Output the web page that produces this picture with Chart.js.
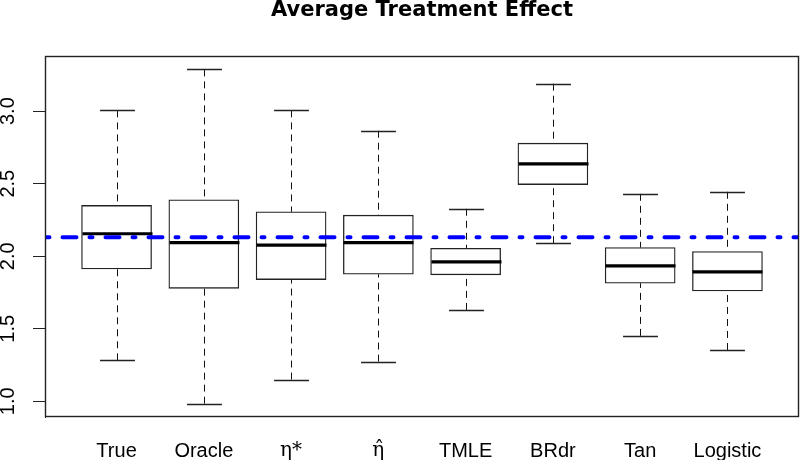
<!DOCTYPE html>
<html>
<head>
<meta charset="utf-8">
<script src="https://cdn.jsdelivr.net/npm/chart.js@4"></script>
<style>
  html, body { margin: 0; padding: 0; background: #fff; }
  canvas { display: block; }
</style>
</head>
<body>
<canvas id="c" width="800" height="460"></canvas>
<script>
// ---- data ----
const categories  = ['True', 'Oracle', 'η*', 'η\u0302', 'TMLE', 'BRdr', 'Tan', 'Logistic'];
const whiskerLow  = [1.283, 0.984, 1.150, 1.274, 1.630, 2.090, 1.451, 1.354];
const q1          = [1.913, 1.779, 1.839, 1.876, 1.872, 2.494, 1.814, 1.761];
const medians     = [2.155, 2.094, 2.076, 2.094, 1.961, 2.637, 1.934, 1.892];
const q3          = [2.350, 2.389, 2.306, 2.283, 2.055, 2.779, 2.060, 2.032];
const whiskerHigh = [3.005, 3.288, 3.005, 2.865, 2.327, 3.189, 2.430, 2.444];
const referenceValue = 2.131;
const yTickValues = [1.0, 1.5, 2.0, 2.5, 3.0];
const xPositions  = categories.map((_, i) => i + 1);

const boxPlugin = {
  id: 'boxParts',
  afterDatasetsDraw(chart) {
    const { ctx, chartArea: a, scales: { x, y } } = chart;
    const meta = chart.getDatasetMeta(0);
    ctx.save();
    ctx.beginPath();
    ctx.rect(a.left, a.top, a.right - a.left, a.bottom - a.top);
    ctx.clip();
    const capHalf = x.getPixelForValue(1.2) - x.getPixelForValue(1);
    for (let i = 0; i < categories.length; i++) {
      const cx = Math.round(x.getPixelForValue(xPositions[i])) + 0.5;
      const bw = meta.data[i].width;
      // median
      ctx.setLineDash([]);
      ctx.strokeStyle = '#000';
      ctx.lineWidth = 3.2;
      ctx.lineCap = 'butt';
      ctx.beginPath();
      const my = y.getPixelForValue(medians[i]);
      ctx.moveTo(cx - bw / 2, my);
      ctx.lineTo(cx + bw / 2, my);
      ctx.stroke();
      // whiskers (dashed), from whisker end to box
      ctx.lineWidth = 1;
      ctx.strokeStyle = '#111';
      ctx.setLineDash([7, 5]);
      ctx.beginPath();
      ctx.moveTo(cx, y.getPixelForValue(whiskerHigh[i]));
      ctx.lineTo(cx, y.getPixelForValue(q3[i]));
      ctx.stroke();
      ctx.beginPath();
      ctx.moveTo(cx, y.getPixelForValue(whiskerLow[i]));
      ctx.lineTo(cx, y.getPixelForValue(q1[i]));
      ctx.stroke();
      // staples
      ctx.setLineDash([]);
      ctx.lineWidth = 1.3;
      ctx.strokeStyle = '#222';
      [whiskerHigh[i], whiskerLow[i]].forEach(v => {
        const py = Math.round(y.getPixelForValue(v)) + 0.5;
        ctx.beginPath();
        ctx.moveTo(cx - capHalf, py);
        ctx.lineTo(cx + capHalf, py);
        ctx.stroke();
      });
    }
    // reference line
    const ry = y.getPixelForValue(referenceValue);
    ctx.strokeStyle = '#0000ff';
    ctx.lineWidth = 4;
    ctx.lineCap = 'round';
    ctx.setLineDash([3, 13, 14, 13]);
    ctx.beginPath();
    ctx.moveTo(a.left + 1.5, ry);
    ctx.lineTo(a.right, ry);
    ctx.stroke();
    ctx.restore();
    // frame
    ctx.save();
    ctx.setLineDash([]);
    ctx.strokeStyle = '#222';
    ctx.lineWidth = 1.4;
    ctx.strokeRect(a.left + 0.5, a.top + 0.5, a.right - a.left - 1, a.bottom - a.top - 1);
    ctx.restore();
  }
};

new Chart(document.getElementById('c'), {
  type: 'bar',
  data: {
    datasets: [{
      data: xPositions.map((p, i) => ({ x: p, y: [q1[i], q3[i]] })),
      backgroundColor: '#ffffff',
      borderColor: '#222',
      borderWidth: 1.3,
      borderSkipped: false,
      barThickness: 70
    }]
  },
  options: {
    responsive: false,
    animation: false,
    devicePixelRatio: 1,
    layout: { padding: { left: 0, right: 1, top: 0, bottom: 0 } },
    plugins: {
      legend: { display: false },
      tooltip: { enabled: false },
      title: {
        display: true,
        text: 'Average Treatment Effect',
        fullSize: false,
        color: '#000',
        font: { family: 'DejaVu Sans', size: 21, weight: 'bold', lineHeight: 1 },
        padding: { top: 0, bottom: 35 }
      }
    },
    scales: {
      x: {
        type: 'linear',
        offset: false,
        min: 0.18,
        max: 8.82,
        afterBuildTicks: s => { s.ticks = xPositions.map(v => ({ value: v })); },
        afterFit: s => { s.height = 43; },
        ticks: {
          autoSkip: false,
          maxRotation: 0,
          minRotation: 0,
          padding: 22,
          color: '#000',
          font: ctx => ({
            family: (ctx.index === 2 || ctx.index === 3) ? 'DejaVu Serif' : 'Liberation Sans',
            size: 20
          }),
          callback: v => categories[Math.round(v) - 1]
        },
        grid: { display: false, offset: false, drawTicks: false, tickLength: 0 },
        border: { display: false }
      },
      y: {
        min: 0.892,
        max: 3.380,
        afterBuildTicks: s => { s.ticks = yTickValues.map(v => ({ value: v })); },
        afterFit: s => { s.width = 45; },
        ticks: {
          minRotation: 90,
          maxRotation: 90,
          crossAlign: 'center',
          padding: 10.6,
          color: '#000',
          font: { family: 'Liberation Sans', size: 20 },
          callback: v => v.toFixed(1)
        },
        grid: { display: true, drawOnChartArea: false, drawTicks: true, tickLength: 12, color: '#222', lineWidth: 1 },
        border: { display: true, color: '#222' }
      }
    }
  },
  plugins: [boxPlugin]
});
</script>
</body>
</html>
